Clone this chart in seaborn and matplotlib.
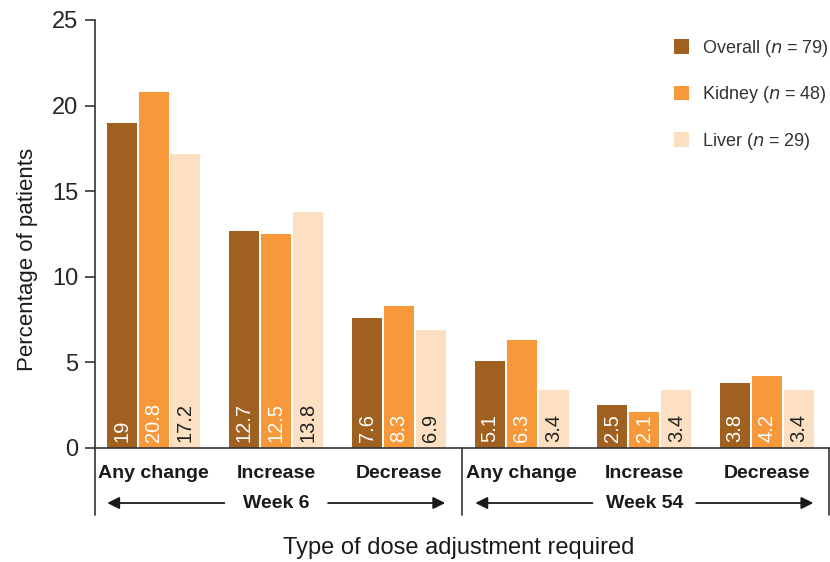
import matplotlib
matplotlib.use("Agg")
import matplotlib.pyplot as plt
import seaborn as sns
import pandas as pd
import numpy as np
from matplotlib.transforms import blended_transform_factory
from matplotlib.patches import Patch

categories = ["Any change", "Increase", "Decrease", "Any change ", "Increase ", "Decrease "]
tick_labels = ["Any change", "Increase", "Decrease", "Any change", "Increase", "Decrease"]
series = ["Overall", "Kidney", "Liver"]
legend_labels = [("Overall", "79"), ("Kidney", "48"), ("Liver", "29")]
overall = [19, 12.7, 7.6, 5.1, 2.5, 3.8]
kidney = [20.8, 12.5, 8.3, 6.3, 2.1, 4.2]
liver = [17.2, 13.8, 6.9, 3.4, 3.4, 3.4]
weeks = ["Week 6", "Week 54"]
colors = ["#A0601F", "#F7993A", "#FDE0C2"]
label_colors = ["white", "white", "#222222"]

rows = []
for s, vals in zip(series, [overall, kidney, liver]):
    for c, v in zip(categories, vals):
        rows.append({"cat": c, "series": s, "value": v})
df = pd.DataFrame(rows)

sns.set_style("white")
plt.rcParams["font.family"] = ["Liberation Sans", "DejaVu Sans"]

fig = plt.figure(figsize=(8.3, 5.62), dpi=100)
ax = fig.add_axes([95/830, 1-448/562, 734/830, 428/562])

sns.barplot(data=df, x="cat", y="value", hue="series", order=categories,
            hue_order=series, palette=colors, saturation=1, width=0.78, gap=0.06,
            edgecolor="none", ax=ax, legend=False)

# value labels
for cont, lc in zip(ax.containers, label_colors):
    for bar, v in zip(cont, cont.datavalues):
        txt = ("%g" % v)
        ax.text(bar.get_x() + bar.get_width()/2, 0.35, txt, rotation=90,
                ha="center", va="bottom", color=lc, fontsize=14.5)

xl, xr = -0.477, 5.505
ax.set_xlim(xl, xr)
ax.set_ylim(0, 25)
ax.set_yticks([0, 5, 10, 15, 20, 25])
ax.tick_params(axis="y", labelsize=17, direction="out", length=7, width=1.2,
               left=True, color="#333333", pad=5)
ax.set_xticks(range(6))
ax.set_xticklabels(tick_labels, fontsize=14, fontweight="bold", color="#1a1a1a")
ax.tick_params(axis="x", length=0, pad=12)
ax.set_xlabel("Type of dose adjustment required", fontsize=17, color="#1a1a1a")
ax.xaxis.label.set_va("center")
ax.xaxis.set_label_coords(0.495, -(548-448)/428)
ax.set_ylabel("Percentage of patients", fontsize=16, color="#1a1a1a")
ax.yaxis.set_label_coords(-(95-27)/734, (448-259)/428)
ax.yaxis.label.set_va("center")

for sp in ["top", "right"]:
    ax.spines[sp].set_visible(False)
for sp in ["left", "bottom"]:
    ax.spines[sp].set_color("#333333")
    ax.spines[sp].set_linewidth(1.2)

trans = blended_transform_factory(ax.transData, ax.transAxes)
ybot = -67/428
for xv in [xl, 2.51, xr]:
    ax.plot([xv, xv], [ybot, 0], transform=trans, color="#333333", lw=1.2, clip_on=False)

yarr = -55/428
for i, w in enumerate(weeks):
    c = 1 + 3*i
    ax.text(c, yarr, w, transform=trans, ha="center", va="center",
            fontsize=14, fontweight="bold", color="#1a1a1a")
    ax.annotate("", xy=(c - 1.4, yarr), xytext=(c - 0.4, yarr), xycoords=trans,
                textcoords=trans, arrowprops=dict(arrowstyle="-|>", color="#1a1a1a",
                lw=1.3, mutation_scale=18), annotation_clip=False)
    ax.annotate("", xy=(c + 1.4, yarr), xytext=(c + 0.4, yarr), xycoords=trans,
                textcoords=trans, arrowprops=dict(arrowstyle="-|>", color="#1a1a1a",
                lw=1.3, mutation_scale=18), annotation_clip=False)

# legend
handles = [Patch(facecolor=c, edgecolor="none") for c in colors]
labels = [f"{n} ($\\it{{n}}$ = {k})" for n, k in legend_labels]
leg = ax.legend(handles, labels, loc="upper right", bbox_to_anchor=(1.012, 0.98),
                frameon=False, fontsize=13, labelspacing=1.42, handlelength=0.85,
                handleheight=0.85, handletextpad=0.7, borderaxespad=0.1)
for t in leg.get_texts():
    t.set_color("#333333")

fig.savefig("out.png", dpi=100)
